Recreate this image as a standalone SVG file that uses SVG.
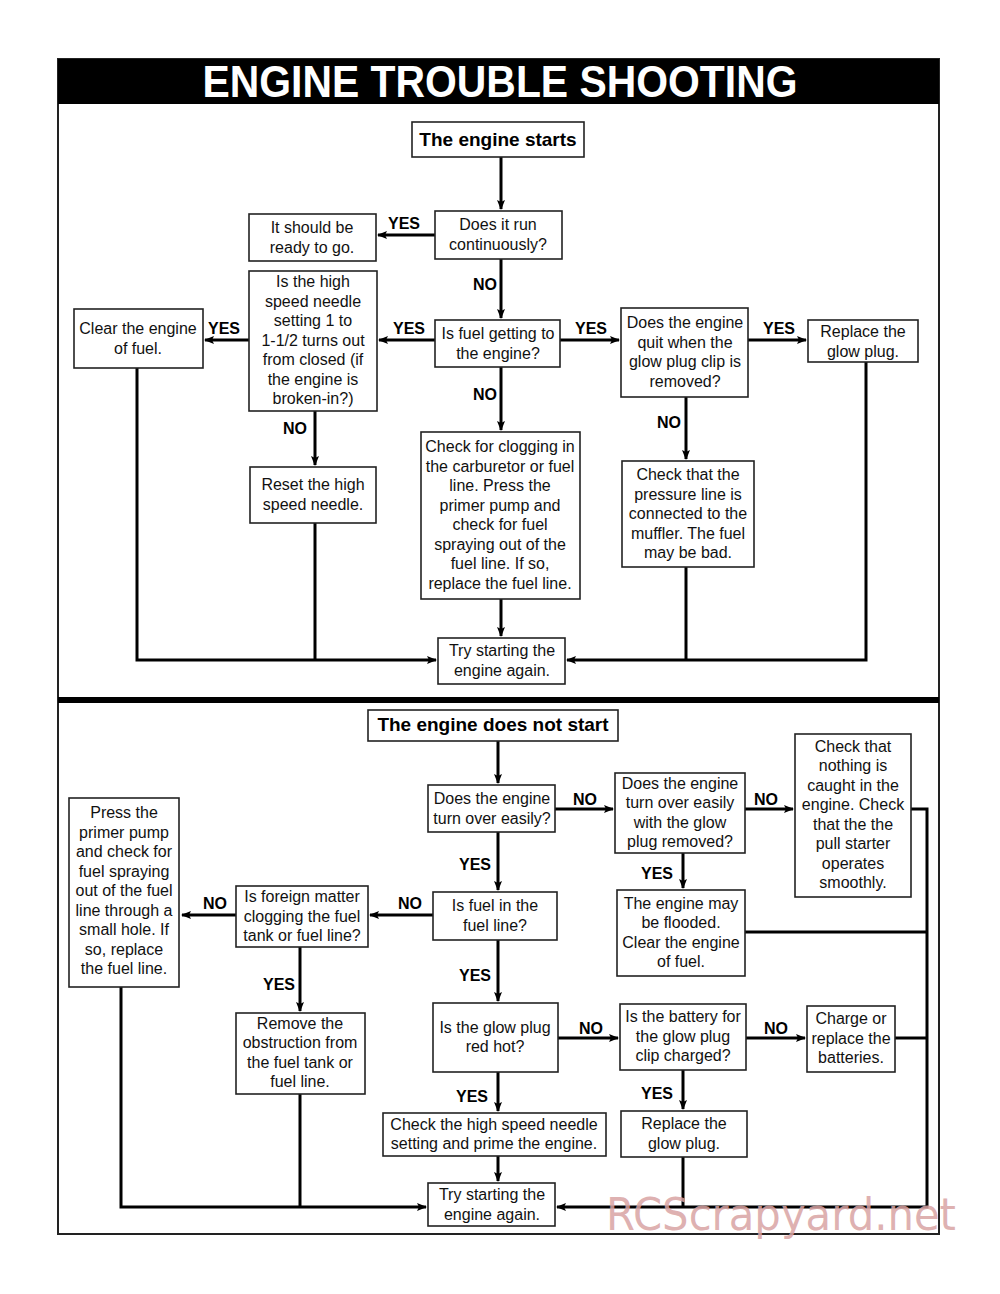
<svg xmlns="http://www.w3.org/2000/svg" width="1000" height="1294" viewBox="0 0 1000 1294">
<defs>
<marker id="ah" markerWidth="10" markerHeight="8" refX="9" refY="4" orient="auto" markerUnits="userSpaceOnUse">
<path d="M0,0 L10,4 L0,8 L2,4 Z" fill="#000"/>
</marker>
<style>
.box{fill:#fff;stroke:#222;stroke-width:1.6}
.t{font-family:"Liberation Sans",Arial,sans-serif;font-size:16px;fill:#111;text-anchor:middle}
.h{font-family:"Liberation Sans",Arial,sans-serif;font-size:19px;font-weight:bold;fill:#000;text-anchor:middle}
.l{font-family:"Liberation Sans",Arial,sans-serif;font-size:16px;font-weight:bold;fill:#000;text-anchor:middle}
.c{fill:none;stroke:#000;stroke-width:3}
.a{fill:none;stroke:#000;stroke-width:3;marker-end:url(#ah)}
</style>
</defs>
<rect width="1000" height="1294" fill="#fff"/>
<!-- frame -->
<rect x="58" y="59" width="881" height="1175" fill="none" stroke="#222" stroke-width="2"/>
<rect x="58" y="59" width="881" height="45" fill="#000"/>
<text x="500" y="97" font-family="'Liberation Sans',Arial,sans-serif" font-size="44" font-weight="bold" fill="#fff" text-anchor="middle" textLength="595" lengthAdjust="spacingAndGlyphs">ENGINE TROUBLE SHOOTING</text>
<rect x="58" y="697" width="881" height="6" fill="#000"/>

<g id="connectors">
<!-- top -->
<path class="a" d="M501,157 V209"/>
<path class="a" d="M435,235 H378"/>
<path class="a" d="M501,259 V318"/>
<path class="a" d="M435,340 H379"/>
<path class="a" d="M249,340 H205"/>
<path class="a" d="M560,340 H619"/>
<path class="a" d="M748,340 H806"/>
<path class="a" d="M315,411 V465"/>
<path class="a" d="M501,367 V430"/>
<path class="a" d="M686,397 V459"/>
<path class="a" d="M501,599 V636"/>
<path class="a" d="M137,368 V660 H436"/>
<path class="c" d="M315,523 V660"/>
<path class="a" d="M866,362 V660 H567"/>
<path class="c" d="M686,567 V660"/>
<!-- bottom -->
<path class="a" d="M498,741 V783"/>
<path class="a" d="M555,809 H613"/>
<path class="a" d="M745,809 H793"/>
<path class="a" d="M498,832 V890"/>
<path class="a" d="M683,853 V888"/>
<path class="a" d="M433,915 H370"/>
<path class="a" d="M236,915 H182"/>
<path class="a" d="M300,947 V1011"/>
<path class="a" d="M498,940 V1001"/>
<path class="a" d="M558,1038 H618"/>
<path class="a" d="M746,1038 H805"/>
<path class="a" d="M498,1072 V1111"/>
<path class="a" d="M683,1070 V1109"/>
<path class="a" d="M498,1156 V1181"/>
<path class="a" d="M121,987 V1207 H426"/>
<path class="c" d="M300,1094 V1207"/>
<path class="a" d="M911,809 H927 V1207 H557"/>
<path class="c" d="M745,932 H927"/>
<path class="c" d="M895,1038 H927"/>
<path class="c" d="M683,1157 V1207"/>
<!-- labels -->
<text class="l" x="404" y="229">YES</text>
<text class="l" x="485" y="290">NO</text>
<text class="l" x="409" y="334">YES</text>
<text class="l" x="224" y="334">YES</text>
<text class="l" x="591" y="334">YES</text>
<text class="l" x="779" y="334">YES</text>
<text class="l" x="295" y="434">NO</text>
<text class="l" x="485" y="400">NO</text>
<text class="l" x="669" y="428">NO</text>
<text class="l" x="585" y="805">NO</text>
<text class="l" x="766" y="805">NO</text>
<text class="l" x="475" y="870">YES</text>
<text class="l" x="657" y="879">YES</text>
<text class="l" x="410" y="909">NO</text>
<text class="l" x="215" y="909">NO</text>
<text class="l" x="279" y="990">YES</text>
<text class="l" x="475" y="981">YES</text>
<text class="l" x="591" y="1034">NO</text>
<text class="l" x="776" y="1034">NO</text>
<text class="l" x="472" y="1102">YES</text>
<text class="l" x="657" y="1099">YES</text>
</g>

<!-- top nodes -->
<g id="n-starts"><rect class="box" x="412" y="122" width="172" height="35"/><text class="h" x="498" y="146">The engine starts</text></g>
<g id="n-run"><rect class="box" x="435" y="211" width="127" height="48"/><text class="t" x="498" y="230">Does it run</text><text class="t" x="498" y="250">continuously?</text></g>
<g id="n-ready"><rect class="box" x="249" y="214" width="127" height="47"/><text class="t" x="312" y="233">It should be</text><text class="t" x="312" y="253">ready to go.</text></g>
<g id="n-fuel"><rect class="box" x="435" y="320" width="125" height="47"/><text class="t" x="498" y="339">Is fuel getting to</text><text class="t" x="498" y="359">the engine?</text></g>
<g id="n-needle"><rect class="box" x="249" y="271" width="128" height="140"/>
<text class="t" x="313" y="287">Is the high</text><text class="t" x="313" y="307">speed needle</text><text class="t" x="313" y="326">setting 1 to</text><text class="t" x="313" y="346">1-1/2 turns out</text><text class="t" x="313" y="365">from closed (if</text><text class="t" x="313" y="385">the engine is</text><text class="t" x="313" y="404">broken-in?)</text></g>
<g id="n-clear"><rect class="box" x="74" y="309" width="129" height="59"/><text class="t" x="138" y="334">Clear the engine</text><text class="t" x="138" y="354">of fuel.</text></g>
<g id="n-quit"><rect class="box" x="621" y="308" width="127" height="89"/><text class="t" x="685" y="328">Does the engine</text><text class="t" x="685" y="348">quit when the</text><text class="t" x="685" y="367">glow plug clip is</text><text class="t" x="685" y="387">removed?</text></g>
<g id="n-glow1"><rect class="box" x="808" y="320" width="110" height="42"/><text class="t" x="863" y="337">Replace the</text><text class="t" x="863" y="357">glow plug.</text></g>
<g id="n-reset"><rect class="box" x="250" y="467" width="126" height="56"/><text class="t" x="313" y="490">Reset the high</text><text class="t" x="313" y="510">speed needle.</text></g>
<g id="n-clog"><rect class="box" x="421" y="432" width="159" height="167"/>
<text class="t" x="500" y="452">Check for clogging in</text><text class="t" x="500" y="472">the carburetor or fuel</text><text class="t" x="500" y="491">line. Press the</text><text class="t" x="500" y="511">primer pump and</text><text class="t" x="500" y="530">check for fuel</text><text class="t" x="500" y="550">spraying out of the</text><text class="t" x="500" y="569">fuel line. If so,</text><text class="t" x="500" y="589">replace the fuel line.</text></g>
<g id="n-pressure"><rect class="box" x="622" y="461" width="132" height="106"/>
<text class="t" x="688" y="480">Check that the</text><text class="t" x="688" y="500">pressure line is</text><text class="t" x="688" y="519">connected to the</text><text class="t" x="688" y="539">muffler. The fuel</text><text class="t" x="688" y="558">may be bad.</text></g>
<g id="n-try1"><rect class="box" x="438" y="638" width="127" height="46"/><text class="t" x="502" y="656">Try starting the</text><text class="t" x="502" y="676">engine again.</text></g>

<!-- bottom nodes -->
<g id="n-notstart"><rect class="box" x="368" y="710" width="250" height="31"/><text class="h" x="493" y="731">The engine does not start</text></g>
<g id="n-turn"><rect class="box" x="428" y="785" width="127" height="47"/><text class="t" x="492" y="804">Does the engine</text><text class="t" x="492" y="824">turn over easily?</text></g>
<g id="n-turn2"><rect class="box" x="615" y="773" width="130" height="80"/><text class="t" x="680" y="789">Does the engine</text><text class="t" x="680" y="808">turn over easily</text><text class="t" x="680" y="828">with the glow</text><text class="t" x="680" y="847">plug removed?</text></g>
<g id="n-caught"><rect class="box" x="795" y="734" width="116" height="163"/>
<text class="t" x="853" y="752">Check that</text><text class="t" x="853" y="771">nothing is</text><text class="t" x="853" y="791">caught in the</text><text class="t" x="853" y="810">engine. Check</text><text class="t" x="853" y="830">that the the</text><text class="t" x="853" y="849">pull starter</text><text class="t" x="853" y="869">operates</text><text class="t" x="853" y="888">smoothly.</text></g>
<g id="n-infuel"><rect class="box" x="433" y="892" width="124" height="48"/><text class="t" x="495" y="911">Is fuel in the</text><text class="t" x="495" y="931">fuel line?</text></g>
<g id="n-flooded"><rect class="box" x="617" y="890" width="128" height="86"/><text class="t" x="681" y="909">The engine may</text><text class="t" x="681" y="928">be flooded.</text><text class="t" x="681" y="948">Clear the engine</text><text class="t" x="681" y="967">of fuel.</text></g>
<g id="n-foreign"><rect class="box" x="236" y="886" width="132" height="61"/><text class="t" x="302" y="902">Is foreign matter</text><text class="t" x="302" y="922">clogging the fuel</text><text class="t" x="302" y="941">tank or fuel line?</text></g>
<g id="n-press"><rect class="box" x="69" y="798" width="110" height="189"/>
<text class="t" x="124" y="818">Press the</text><text class="t" x="124" y="838">primer pump</text><text class="t" x="124" y="857">and check for</text><text class="t" x="124" y="877">fuel spraying</text><text class="t" x="124" y="896">out of the fuel</text><text class="t" x="124" y="916">line through a</text><text class="t" x="124" y="935">small hole. If</text><text class="t" x="124" y="955">so, replace</text><text class="t" x="124" y="974">the fuel line.</text></g>
<g id="n-remove"><rect class="box" x="236" y="1013" width="129" height="81"/><text class="t" x="300" y="1029">Remove the</text><text class="t" x="300" y="1048">obstruction from</text><text class="t" x="300" y="1068">the fuel tank or</text><text class="t" x="300" y="1087">fuel line.</text></g>
<g id="n-redhot"><rect class="box" x="433" y="1003" width="125" height="69"/><text class="t" x="495" y="1033">Is the glow plug</text><text class="t" x="495" y="1052">red hot?</text></g>
<g id="n-battery"><rect class="box" x="620" y="1004" width="126" height="66"/><text class="t" x="683" y="1022">Is the battery for</text><text class="t" x="683" y="1042">the glow plug</text><text class="t" x="683" y="1061">clip charged?</text></g>
<g id="n-charge"><rect class="box" x="807" y="1006" width="88" height="66"/><text class="t" x="851" y="1024">Charge or</text><text class="t" x="851" y="1044">replace the</text><text class="t" x="851" y="1063">batteries.</text></g>
<g id="n-checkneedle"><rect class="box" x="383" y="1113" width="223" height="43"/><text class="t" x="494" y="1130">Check the high speed needle</text><text class="t" x="494" y="1149">setting and prime the engine.</text></g>
<g id="n-glow2"><rect class="box" x="621" y="1111" width="126" height="46"/><text class="t" x="684" y="1129">Replace the</text><text class="t" x="684" y="1149">glow plug.</text></g>
<g id="n-try2"><rect class="box" x="428" y="1183" width="127" height="43"/><text class="t" x="492" y="1200">Try starting the</text><text class="t" x="492" y="1220">engine again.</text></g>

<text x="606" y="1230" font-family="'DejaVu Sans',sans-serif" font-size="44" fill="#d9a3a3" fill-opacity="0.85" textLength="350" lengthAdjust="spacingAndGlyphs">RCScrapyard.net</text>
</svg>
